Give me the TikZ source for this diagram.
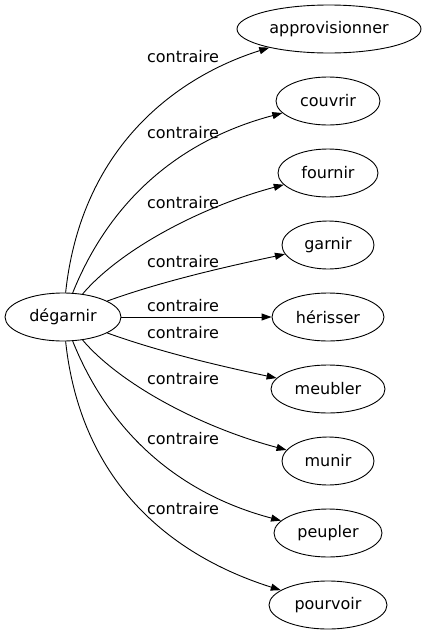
\documentclass[tikz,border=0pt]{standalone}
\usepackage{fontspec}
\setmainfont{DejaVu Sans}
\usetikzlibrary{shapes.geometric,arrows.meta}
\begin{document}
\begin{tikzpicture}[x=1pt,y=-1pt,
  word/.style={draw,ellipse,inner sep=0pt,minimum height=48pt,line width=0.9pt,font=\fontsize{16}{16}\selectfont},
  rel/.style={draw,line width=0.9pt,-{Triangle[length=10pt,width=7pt]}},
  lab/.style={font=\fontsize{16}{16}\selectfont,inner sep=0pt}]
\useasboundingbox (0,0) rectangle (426,635);
\node[word,minimum width=116pt] (dg) at (63,317) {dégarnir};
\node[word,minimum width=184pt] (ap) at (329,29) {approvisionner};
\node[word,minimum width=104pt] (co) at (328,101) {couvrir};
\node[word,minimum width=100pt] (fo) at (328,173) {fournir};
\node[word,minimum width=92pt] (ga) at (328,245) {garnir};
\node[word,minimum width=112pt] (he) at (328,317) {hérisser};
\node[word,minimum width=114pt] (me) at (328,389) {meubler};
\node[word,minimum width=92pt] (mu) at (328,461) {munir};
\node[word,minimum width=108pt] (pe) at (328,533) {peupler};
\node[word,minimum width=118pt] (po) at (328,605) {pourvoir};
\draw[rel] (dg) .. controls (82,140) and (185,74) .. (ap);
\draw[rel] (dg) .. controls (110,200) and (180,140) .. (co);
\draw[rel] (dg) .. controls (120,250) and (200,207) .. (fo);
\draw[rel] (dg) .. controls (160,282) and (220,268) .. (ga);
\draw[rel] (dg) -- (he);
\draw[rel] (dg) .. controls (160,352) and (220,366) .. (me);
\draw[rel] (dg) .. controls (120,384) and (200,427) .. (mu);
\draw[rel] (dg) .. controls (110,434) and (180,494) .. (pe);
\draw[rel] (dg) .. controls (82,494) and (185,560) .. (po);
\node[lab] (l1) at (183,57) {contraire};
\node[lab] (l2) at (183,133) {contraire};
\node[lab] (l3) at (183,203) {contraire};
\node[lab] (l4) at (183,262) {contraire};
\node[lab] (l5) at (183,306) {contraire};
\node[lab] (l6) at (183,333) {contraire};
\node[lab] (l7) at (183,379) {contraire};
\node[lab] (l8) at (183,439) {contraire};
\node[lab] (l9) at (183,509) {contraire};
\end{tikzpicture}
\end{document}
